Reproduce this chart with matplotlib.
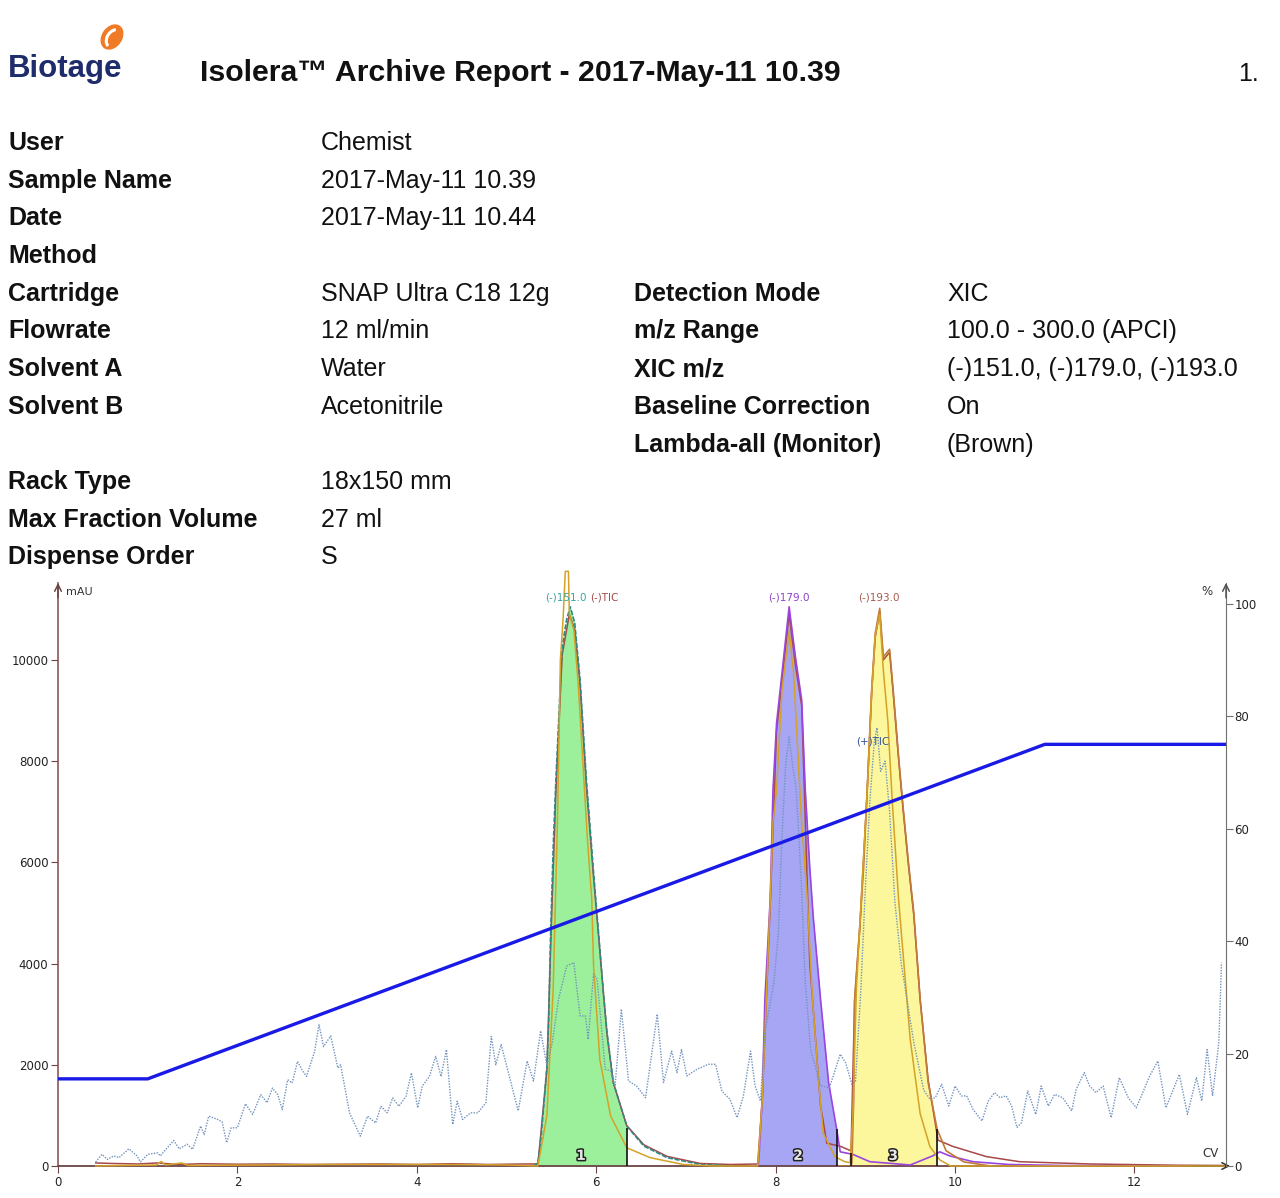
import numpy as np
import matplotlib.pyplot as plt
from matplotlib.patches import Ellipse, Arc
import matplotlib.patheffects as pe

# ---------------------------------------------------------
# Report header data
# ---------------------------------------------------------
title = "Isolera\u2122 Archive Report - 2017-May-11 10.39"
page_no = "1."

left_labels = ["User", "Sample Name", "Date", "Method", "Cartridge", "Flowrate",
               "Solvent A", "Solvent B", "Rack Type", "Max Fraction Volume", "Dispense Order"]
left_values = ["Chemist", "2017-May-11 10.39", "2017-May-11 10.44", "", "SNAP Ultra C18 12g",
               "12 ml/min", "Water", "Acetonitrile", "18x150 mm", "27 ml", "S"]
left_rows_y = [150, 188, 225, 263, 301, 338, 376, 414, 489, 527, 564]

right_labels = ["Detection Mode", "m/z Range", "XIC m/z", "Baseline Correction", "Lambda-all (Monitor)"]
right_values = ["XIC", "100.0 - 300.0 (APCI)", "(-)151.0, (-)179.0, (-)193.0", "On", "(Brown)"]
right_rows_y = [301, 338, 376, 414, 452]

# ---------------------------------------------------------
# Chromatogram data (CV, value)
# ---------------------------------------------------------
# gradient %B
grad_cv = [0, 1.0, 11.0, 13.02]
grad_pct = [15.5, 15.5, 75, 75]

# (+)TIC, dotted
tic_pos = [(0.42, 80), (0.49, 230), (0.55, 130), (0.62, 200), (0.68, 165), (0.79, 340), (0.88, 200),
           (0.92, 80), (1.00, 230), (1.11, 260), (1.14, 200), (1.29, 505), (1.35, 340), (1.44, 430),
           (1.50, 330), (1.59, 790), (1.63, 620), (1.68, 985), (1.78, 920), (1.83, 870), (1.88, 460),
           (1.93, 755), (2.00, 755), (2.09, 1230), (2.17, 1020), (2.26, 1410), (2.33, 1250), (2.39, 1540),
           (2.45, 1410), (2.50, 1115), (2.56, 1705), (2.61, 1640), (2.67, 2065), (2.72, 1900), (2.77, 1770),
           (2.86, 2260), (2.91, 2790), (2.96, 2360), (3.04, 2570), (3.12, 1935), (3.15, 2000), (3.25, 1050),
           (3.37, 590), (3.45, 985), (3.54, 850), (3.60, 1180), (3.67, 1050), (3.73, 1345), (3.80, 1180),
           (3.88, 1380), (3.94, 1840), (4.01, 1150), (4.06, 1575), (4.14, 1770), (4.21, 2165), (4.27, 1770),
           (4.33, 2300), (4.40, 820), (4.45, 1280), (4.51, 920), (4.60, 1050), (4.68, 1050), (4.77, 1250),
           (4.83, 2560), (4.88, 2000), (4.94, 2400), (5.04, 1710), (5.13, 1090), (5.23, 2075), (5.30, 1680),
           (5.38, 2670), (5.45, 1980), (5.51, 2440), (5.58, 3300), (5.67, 3950), (5.75, 4020), (5.82, 2965),
           (5.88, 2965), (5.91, 2500), (5.97, 3790), (6.01, 3690), (6.10, 1910), (6.16, 1880), (6.21, 1580),
           (6.28, 3100), (6.36, 1680), (6.45, 1580), (6.55, 1350), (6.68, 3000), (6.75, 1650), (6.84, 2270),
           (6.90, 1845), (6.95, 2300), (7.01, 1780), (7.12, 1910), (7.25, 2010), (7.33, 2010), (7.40, 1480),
           (7.49, 1320), (7.57, 955), (7.64, 1380), (7.72, 2270), (7.77, 1580), (7.83, 1285), (7.88, 2640),
           (7.98, 3620), (8.03, 4600), (8.07, 6500), (8.11, 7900), (8.15, 8480), (8.19, 7900), (8.23, 7430),
           (8.29, 5450), (8.33, 3620), (8.39, 2300), (8.50, 1580), (8.60, 1550), (8.72, 2210), (8.78, 2040),
           (8.85, 1615), (8.89, 1680), (8.95, 3500), (9.00, 5500), (9.05, 7200), (9.10, 8400), (9.13, 8660),
           (9.17, 7800), (9.22, 8000), (9.27, 7000), (9.33, 5200), (9.40, 4000), (9.54, 2440), (9.65, 1500),
           (9.72, 1320), (9.78, 1350), (9.85, 1615), (9.93, 1185), (10.00, 1580), (10.07, 1385), (10.13, 1385),
           (10.20, 1120), (10.30, 890), (10.37, 1285), (10.44, 1450), (10.50, 1350), (10.57, 1385),
           (10.63, 1185), (10.69, 760), (10.74, 855), (10.81, 1480), (10.90, 1020), (10.96, 1580),
           (11.04, 1185), (11.11, 1415), (11.20, 1350), (11.30, 1090), (11.35, 1515), (11.44, 1845),
           (11.50, 1580), (11.57, 1450), (11.65, 1580), (11.74, 955), (11.83, 1745), (11.93, 1350),
           (12.02, 1150), (12.17, 1780), (12.26, 2075), (12.35, 1150), (12.50, 1810), (12.59, 1020),
           (12.69, 1745), (12.75, 1285), (12.81, 2300), (12.87, 1385), (12.94, 2440), (12.97, 4020)]

# (-)TIC
tic_neg = [(0.42, 60), (0.6, 50), (0.9, 40), (1.1, 60), (1.35, 30), (1.6, 45), (2.0, 35), (2.4, 40),
           (2.8, 30), (3.2, 35), (3.6, 40), (4.0, 30), (4.4, 45), (4.8, 30), (5.2, 40), (5.35, 40),
           (5.45, 1900), (5.5, 4800), (5.55, 7400), (5.62, 10100), (5.7, 10900), (5.76, 10600), (5.82, 9500),
           (5.89, 7500), (5.97, 5700), (6.04, 4250), (6.12, 2600), (6.19, 1650), (6.34, 800), (6.53, 420),
           (6.79, 190), (7.16, 50), (7.5, 30), (7.8, 40), (7.85, 1300), (7.94, 5200), (8.01, 8600),
           (8.09, 9900), (8.15, 10900), (8.22, 9900), (8.29, 9100), (8.38, 4000), (8.5, 1200), (8.57, 450),
           (8.72, 390), (8.84, 300), (8.88, 3250), (8.94, 4750), (9.02, 7400), (9.07, 9350), (9.11, 10450),
           (9.16, 10950), (9.2, 10000), (9.27, 10150), (9.31, 9350), (9.37, 8050), (9.42, 7050), (9.48, 5950),
           (9.54, 4950), (9.61, 3300), (9.7, 1700), (9.81, 510), (9.97, 390), (10.35, 185), (10.72, 85),
           (11.5, 40), (12.5, 15), (13.0, 10)]

# XIC traces
xic_151 = [(5.30, 0), (5.35, 60), (5.39, 660), (5.45, 1980), (5.47, 2900), (5.49, 4500), (5.52, 6300),
           (5.55, 7630), (5.62, 10260), (5.67, 10800), (5.71, 11050), (5.76, 10730), (5.82, 9600),
           (5.89, 7630), (5.97, 5800), (6.04, 4300), (6.08, 3400), (6.12, 2640), (6.19, 1650), (6.34, 790),
           (6.53, 395), (6.79, 165), (7.16, 30), (7.53, 0)]
xic_179 = [(7.70, 0), (7.80, 0), (7.81, 65), (7.85, 1320), (7.88, 3300), (7.94, 5300), (7.97, 7430),
           (8.01, 8750), (8.09, 10060), (8.15, 11050), (8.22, 10060), (8.29, 9210), (8.33, 7430),
           (8.38, 5900), (8.42, 4900), (8.50, 3300), (8.59, 1650), (8.68, 725), (8.72, 280), (8.86, 230),
           (9.05, 85), (9.50, 20), (9.75, 200), (9.83, 280), (9.94, 200), (10.2, 85), (10.6, 30),
           (11.2, 10), (12.5, 0)]
xic_193 = [(8.70, 0), (8.84, 0), (8.85, 65), (8.87, 1320), (8.88, 3300), (8.94, 4800), (8.98, 5900),
           (9.02, 7430), (9.07, 9410), (9.11, 10530), (9.16, 11020), (9.20, 10060), (9.27, 10210),
           (9.31, 9410), (9.37, 8090), (9.42, 7100), (9.48, 6000), (9.54, 5000), (9.61, 3300), (9.70, 1650),
           (9.80, 725), (9.90, 300), (10.1, 80), (10.4, 0)]

# UV lambda-all (monitor)
uv_all = [(0.42, 0), (1.1, 20), (1.15, 90), (1.2, 20), (1.38, 60), (1.45, 10), (2.3, 20), (3.0, 30),
          (3.8, 30), (4.4, 30), (5.0, 20), (5.35, 0), (5.45, 1000), (5.52, 3500), (5.57, 7000),
          (5.60, 10000), (5.63, 10800), (5.655, 11750), (5.69, 11750), (5.70, 10900), (5.75, 10600),
          (5.80, 9500), (5.85, 8000), (5.90, 6500), (5.95, 5270), (5.97, 3950), (6.04, 2100), (6.16, 990),
          (6.34, 360), (6.60, 165), (6.97, 30), (7.3, 0), (7.80, 0), (7.85, 1300), (7.94, 5300),
          (7.97, 6800), (8.01, 7430), (8.07, 9400), (8.15, 10570), (8.20, 9740), (8.25, 8090), (8.29, 6770),
          (8.35, 5350), (8.41, 3300), (8.48, 1650), (8.53, 650), (8.66, 185), (8.77, 85), (8.83, 65),
          (8.86, 1000), (8.90, 3500), (8.96, 5500), (9.02, 7400), (9.07, 9350), (9.11, 10500),
          (9.16, 10900), (9.20, 9800), (9.25, 8800), (9.30, 7200), (9.37, 5270), (9.50, 2500),
          (9.61, 1040), (9.72, 380), (9.83, 120), (9.95, 0), (13.0, 0)]

# fractions
frac_names = ["1", "2", "3"]
frac_start = [5.35, 7.80, 8.84]
frac_end = [6.34, 8.68, 9.80]
frac_label_cv = [5.83, 8.25, 9.31]
frac_line_cv = [6.34, 8.68, 8.84, 9.80]
frac_line_h = [760, 725, 265, 725]

# peak labels
peak_text = ["(-)151.0", "(-)TIC", "(-)179.0", "(-)193.0", "(+)TIC"]
peak_cv = [5.66, 6.09, 8.15, 9.15, 9.08]
peak_val = [11230, 11230, 11230, 11230, 8380]

# ---------------------------------------------------------
# Figure
# ---------------------------------------------------------
W, H = 1280, 1198
fig = plt.figure(figsize=(W / 100, H / 100), dpi=100)
sans = ['Liberation Sans', 'DejaVu Sans']

def fy(py):
    return 1 - py / H

# logo
fig.text(8 / W, fy(77), "Biotage", fontsize=22.5, fontweight='bold', color='#1f2c6b', family=sans)
lax = fig.add_axes([96 / W, 1 - 54 / H, 34 / W, 34 / H])
lax.set_xlim(0, 34)
lax.set_ylim(0, 34)
lax.axis('off')
lax.add_patch(Ellipse((16, 17), 19, 26, angle=-35, color='#f07a25'))
lax.add_patch(Arc((19, 15), 16, 20, angle=-35, theta1=120, theta2=260, color='white', lw=2.2))

fig.text(200 / W, fy(81), title, fontsize=21.8, fontweight='bold', color='#111111', family=sans)
fig.text(1238 / W, fy(81), page_no, fontsize=18, color='#111111', family=sans)

for lab, val, py in zip(left_labels, left_values, left_rows_y):
    fig.text(8 / W, fy(py), lab, fontsize=18, fontweight='bold', color='#111111', family=sans)
    fig.text(321 / W, fy(py), val, fontsize=18, color='#111111', family=sans)
for lab, val, py in zip(right_labels, right_values, right_rows_y):
    fig.text(634 / W, fy(py), lab, fontsize=18, fontweight='bold', color='#111111', family=sans)
    fig.text(947 / W, fy(py), val, fontsize=18, color='#111111', family=sans)

# chromatogram axes
ax = fig.add_axes([58 / W, 32 / H, (1226 - 58) / W, (1166 - 583) / H])
ax.set_xlim(0, 13.02)
ax.set_ylim(0, 11520)
ax2 = ax.twinx()
ax2.set_ylim(0, 103.7)

def xy(pairs):
    a = np.array(pairs, dtype=float)
    return a[:, 0], a[:, 1]

c151, v151 = xy(xic_151)
c179, v179 = xy(xic_179)
c193, v193 = xy(xic_193)
ctn, vtn = xy(tic_neg)
ctp, vtp = xy(tic_pos)
cuv, vuv = xy(uv_all)

fill_cols = ['#9cf09c', '#a6a6f4', '#fcf79c']
for (cv, v), s, e, col in zip([(c151, v151), (c179, v179), (c193, v193)], frac_start, frac_end, fill_cols):
    m = (cv >= s) & (cv <= e)
    ax.fill_between(cv[m], 0, v[m], color=col, lw=0, zorder=1)

ax.plot(ctn, vtn, color='#a84848', lw=1.1, zorder=2)
ax.plot(c179, v179, color='#9b45e0', lw=1.2, zorder=3)
ax.plot(c193, v193, color='#c07a3a', lw=1.2, zorder=3)
ax.plot(c151, v151, color='#2e8a86', lw=1.2, ls=(0, (3, 1)), zorder=3)
ax.plot(cuv, vuv, color='#d4a228', lw=1.1, zorder=4, clip_on=False)
ax.plot(ctp, vtp, color='#7393bd', lw=1.0, ls=(0, (1, 1)), zorder=5)

ax.vlines(frac_line_cv, 0, frac_line_h, color='#111111', lw=1.2, zorder=6)
for name, cv in zip(frac_names, frac_label_cv):
    ax.text(cv, 200, name, fontsize=10, fontweight='bold', color='#e8e8e8', ha='center', va='center',
            zorder=7, path_effects=[pe.withStroke(linewidth=2.2, foreground='#222222')])

peak_cols = ['#3aa3a3', '#a04848', '#8a42cc', '#a8584e', '#31529a']
for t, cv, v, col in zip(peak_text, peak_cv, peak_val, peak_cols):
    ax.text(cv, v, t, fontsize=7.5, color=col, ha='center', va='center', zorder=8)

ax2.plot(grad_cv, grad_pct, color='#1a1ae6', lw=2.4)

# axis styling
for a in (ax, ax2):
    a.spines['top'].set_visible(False)
ax.spines['right'].set_visible(False)
ax2.spines['left'].set_visible(False)
ax2.spines['bottom'].set_visible(False)
ax.spines['left'].set_color('#8a5858')
ax.spines['bottom'].set_color('#6a4444')
ax.spines['left'].set_linewidth(1.2)
ax.spines['bottom'].set_linewidth(1.3)
ax2.spines['right'].set_color('#707070')

ax.set_xticks(range(0, 13, 2))
ax.set_yticks(range(0, 10001, 2000))
ax2.set_yticks(range(0, 101, 20))
ax.tick_params(axis='both', labelsize=8.5, colors='#6a4444', labelcolor='#222222', length=5, pad=2)
ax2.tick_params(axis='y', labelsize=8.5, colors='#707070', labelcolor='#222222', length=5, pad=1)

arr = dict(arrowstyle='->', lw=1.1, mutation_scale=12)
ax.annotate('', xy=(0, 1.005), xytext=(0, 0.97), xycoords='axes fraction',
            arrowprops=dict(arr, color='#6a4444'), annotation_clip=False)
ax2.annotate('', xy=(1, 1.005), xytext=(1, 0.97), xycoords='axes fraction',
             arrowprops=dict(arr, color='#555555'), annotation_clip=False)
ax.annotate('', xy=(1.006, 0), xytext=(0.97, 0), xycoords='axes fraction',
            arrowprops=dict(arr, color='#333333'), annotation_clip=False)

ax.text(0.007, 0.985, "mAU", transform=ax.transAxes, fontsize=8, color='#333333', va='center')
ax.text(0.984, 0.985, "%", transform=ax.transAxes, fontsize=8.5, color='#333333', ha='center', va='center')
ax.text(0.987, 0.022, "CV", transform=ax.transAxes, fontsize=8.5, color='#333333', ha='center', va='center')

fig.savefig("out.png", dpi=100)
